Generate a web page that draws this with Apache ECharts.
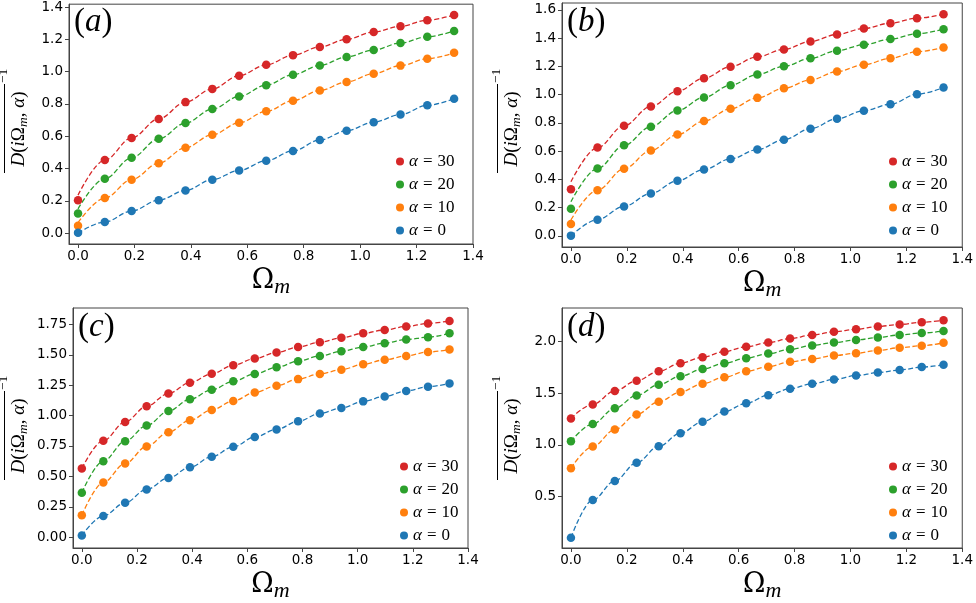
<!DOCTYPE html>
<html>
<head>
<meta charset="utf-8">
<script src="https://cdn.jsdelivr.net/npm/echarts@6/dist/echarts.min.js"></script>
<style>
  html, body { margin: 0; padding: 0; background: #fff; }
  #chart { width: 976px; height: 603px; }
</style>
</head>
<body>
<div id="chart"></div>
<script>
// x grid of the points
const xsAB = [0, 0.095, 0.190, 0.286, 0.381, 0.476, 0.571, 0.667, 0.762, 0.857, 0.952, 1.048, 1.143, 1.238, 1.333]
const xsCD = [0, 0.078, 0.157, 0.235, 0.314, 0.392, 0.471, 0.549, 0.627, 0.706, 0.784, 0.863, 0.941, 1.020, 1.098, 1.176, 1.255, 1.333]

const seriesNames = ['α = 30', 'α = 20', 'α = 10', 'α = 0']
const colors = ['#d62728', '#2ca02c', '#ff7f0e', '#1f77b4']

// panel (a)
const a30 = [0.204, 0.452, 0.589, 0.707, 0.811, 0.893, 0.975, 1.042, 1.102, 1.153, 1.200, 1.245, 1.281, 1.318, 1.351]
const a20 = [0.121, 0.337, 0.466, 0.584, 0.681, 0.768, 0.846, 0.916, 0.981, 1.038, 1.091, 1.134, 1.177, 1.216, 1.251]
const a10 = [0.045, 0.217, 0.331, 0.433, 0.529, 0.609, 0.683, 0.754, 0.820, 0.883, 0.936, 0.987, 1.037, 1.080, 1.116]
const a0 = [0.002, 0.069, 0.137, 0.204, 0.264, 0.331, 0.388, 0.448, 0.509, 0.576, 0.634, 0.687, 0.734, 0.791, 0.832]
const curveStartA = [0.235, 0.15, 0.065, 0.0]

// panel (b)
const b30 = [0.331, 0.625, 0.780, 0.916, 1.024, 1.116, 1.198, 1.268, 1.320, 1.376, 1.426, 1.468, 1.506, 1.541, 1.569]
const b20 = [0.193, 0.477, 0.641, 0.773, 0.888, 0.980, 1.067, 1.142, 1.200, 1.257, 1.311, 1.353, 1.393, 1.431, 1.463]
const b10 = [0.085, 0.324, 0.475, 0.604, 0.717, 0.813, 0.900, 0.977, 1.045, 1.104, 1.163, 1.212, 1.257, 1.304, 1.334]
const b0 = [0.002, 0.115, 0.209, 0.301, 0.390, 0.470, 0.545, 0.611, 0.681, 0.759, 0.829, 0.886, 0.932, 1.003, 1.050]
const curveStartB = [0.383, 0.242, 0.113, 0.0]

// panel (c)
const c30 = [0.565, 0.794, 0.948, 1.077, 1.182, 1.271, 1.344, 1.414, 1.469, 1.519, 1.564, 1.604, 1.640, 1.677, 1.704, 1.733, 1.758, 1.779]
const c20 = [0.366, 0.625, 0.789, 0.918, 1.037, 1.134, 1.212, 1.282, 1.343, 1.397, 1.448, 1.491, 1.529, 1.564, 1.596, 1.626, 1.645, 1.677]
const c10 = [0.180, 0.450, 0.606, 0.746, 0.864, 0.961, 1.047, 1.120, 1.190, 1.246, 1.300, 1.343, 1.378, 1.422, 1.459, 1.491, 1.523, 1.543]
const c0 = [0.013, 0.175, 0.283, 0.393, 0.487, 0.576, 0.662, 0.743, 0.824, 0.886, 0.953, 1.018, 1.063, 1.117, 1.158, 1.203, 1.238, 1.265]

// panel (d)
const d30 = [1.255, 1.390, 1.520, 1.618, 1.709, 1.788, 1.845, 1.899, 1.946, 1.987, 2.025, 2.060, 2.091, 2.114, 2.142, 2.161, 2.183, 2.202]
const d20 = [1.034, 1.201, 1.353, 1.476, 1.580, 1.662, 1.731, 1.788, 1.836, 1.880, 1.921, 1.959, 1.987, 2.012, 2.035, 2.060, 2.079, 2.098]
const d10 = [0.775, 0.983, 1.147, 1.293, 1.416, 1.510, 1.589, 1.653, 1.710, 1.754, 1.801, 1.829, 1.861, 1.883, 1.911, 1.937, 1.956, 1.984]
const d0 = [0.105, 0.468, 0.652, 0.828, 0.986, 1.113, 1.223, 1.321, 1.401, 1.479, 1.542, 1.589, 1.630, 1.668, 1.697, 1.722, 1.750, 1.773]

// tick labels
const xTicks = [0, 0.2, 0.4, 0.6, 0.8, 1.0, 1.2, 1.4]
const yTicksA = [0, 0.2, 0.4, 0.6, 0.8, 1.0, 1.2, 1.4]
const yTicksB = [0, 0.2, 0.4, 0.6, 0.8, 1.0, 1.2, 1.4, 1.6]
const yTicksC = [0, 0.25, 0.5, 0.75, 1.0, 1.25, 1.5, 1.75]
const yTicksD = [0.5, 1.0, 1.5, 2.0]

const panelLetters = ['a', 'b', 'c', 'd']

const panels = [
  { xs: xsAB, ys: [a30, a20, a10, a0], start: curveStartA, yTicks: yTicksA, digits: 1,
    grid: { left: 69, top: 3, width: 404, height: 241 }, yMin: -0.0675, yMax: 1.4175 },
  { xs: xsAB, ys: [b30, b20, b10, b0], start: curveStartB, yTicks: yTicksB, digits: 1,
    grid: { left: 562, top: 3, width: 404, height: 244 }, yMin: -0.0785, yMax: 1.6485 },
  { xs: xsCD, ys: [c30, c20, c10, c0], start: null, yTicks: yTicksC, digits: 2,
    grid: { left: 73, top: 308, width: 395, height: 245 }, yMin: -0.089, yMax: 1.885 },
  { xs: xsCD, ys: [d30, d20, d10, d0], start: null, yTicks: yTicksD, digits: 1,
    grid: { left: 562, top: 308, width: 404, height: 244 }, yMin: 0.005, yMax: 2.32 }
]

const axisColor = '#444'
const tickFont = { color: '#000', fontFamily: 'DejaVu Sans', fontSize: 13.5 }
const mathFont = 'Liberation Serif'

const chart = echarts.init(document.getElementById('chart'), null, { renderer: 'canvas' })

const grids = []
const xAxes = []
const yAxes = []
const series = []
const legends = []
const graphics = []

panels.forEach((p, i) => {
  grids.push(Object.assign({ show: true, borderColor: axisColor, borderWidth: 1, backgroundColor: 'transparent' }, p.grid))

  xAxes.push({
    type: 'value', gridIndex: i, min: -0.032, max: 1.4,
    axisLine: { show: true, onZero: false, lineStyle: { color: axisColor, width: 1 } },
    axisTick: { show: true, length: 4, customValues: xTicks, lineStyle: { color: axisColor } },
    axisLabel: Object.assign({ margin: 5, customValues: xTicks, formatter: v => v.toFixed(1) }, tickFont),
    splitLine: { show: false },
    name: '{o|Ω}{m|m}', nameLocation: 'middle', nameGap: 22,
    nameTextStyle: {
      rich: {
        o: { fontFamily: 'DejaVu Serif', fontSize: 27, color: '#000', lineHeight: 30 },
        m: { fontFamily: mathFont, fontStyle: 'italic', fontSize: 22, color: '#000', lineHeight: 30, padding: [12, 0, 0, 0] }
      }
    }
  })

  yAxes.push({
    type: 'value', gridIndex: i, min: p.yMin, max: p.yMax,
    axisLine: { show: true, onZero: false, lineStyle: { color: axisColor, width: 1 } },
    axisTick: { show: true, length: 4, customValues: p.yTicks, lineStyle: { color: axisColor } },
    axisLabel: Object.assign({ margin: 6, customValues: p.yTicks, formatter: v => v.toFixed(p.digits) }, tickFont),
    splitLine: { show: false }
  })

  p.ys.forEach((ys, j) => {
    // dashed guide curve
    series.push({
      type: 'line', name: 'fit' + i + j, xAxisIndex: i, yAxisIndex: i,
      data: p.xs.map((x, k) => [x, (k === 0 && p.start) ? p.start[j] : ys[k]]),
      symbol: 'none', smooth: 0.35, smoothMonotone: 'x', silent: true, z: 2,
      lineStyle: { color: colors[j], width: 1.3, type: [5, 2.5] }
    })
    series.push({
      type: 'scatter', name: seriesNames[j], xAxisIndex: i, yAxisIndex: i,
      data: p.xs.map((x, k) => [x, ys[k]]),
      symbol: 'circle', symbolSize: 8.5, z: 3,
      itemStyle: { color: colors[j], opacity: 1 }
    })
  })

  const gx = p.grid.left, gy = p.grid.top

  legends.push({
    data: seriesNames, orient: 'vertical', icon: 'circle', padding: 0,
    left: gx + 327, top: gy + 150, itemWidth: 8, itemHeight: 8, itemGap: 6,
    selectedMode: false,
    formatter: name => '{i|α}{e|=}{t|' + name.split('= ')[1] + '}',
    textStyle: {
      lineHeight: 16,
      rich: {
        i: { fontFamily: mathFont, fontStyle: 'italic', fontSize: 17, color: '#000', lineHeight: 16 },
        e: { fontFamily: mathFont, fontSize: 17, color: '#000', lineHeight: 16, padding: [0, 5, 0, 5] },
        t: { fontFamily: mathFont, fontSize: 17, color: '#000', lineHeight: 16 }
      }
    }
  })

  // panel letter
  graphics.push({
    type: 'text', left: gx + 5, top: gy + 3, z: 10,
    style: {
      text: '{p|(}{i|' + panelLetters[i] + '}{p|)}',
      rich: {
        p: { fontFamily: mathFont, fontSize: 33, fill: '#000' },
        i: { fontFamily: mathFont, fontStyle: 'italic', fontSize: 33, fill: '#000' }
      }
    }
  })

  // rotated y label with overline and exponent
  const cx = i % 2 === 0 ? 19 : 512
  const cy = i < 2 ? 129 : 436
  graphics.push({
    type: 'group', x: cx, y: cy, rotation: Math.PI / 2, z: 10,
    children: [
      {
        type: 'text', x: 0, y: 0,
        style: {
          text: '{i|D}{u|(}{i|i}{u|Ω}{s|m}{u|, }{i|α}{u|)}',
          align: 'center', verticalAlign: 'middle',
          rich: {
            i: { fontFamily: mathFont, fontStyle: 'italic', fontSize: 19, fill: '#000' },
            u: { fontFamily: mathFont, fontSize: 19, fill: '#000' },
            s: { fontFamily: mathFont, fontStyle: 'italic', fontSize: 13.5, fill: '#000', padding: [8, 0, 0, 0] }
          }
        }
      },
      {
        type: 'line', shape: { x1: -44, y1: -14.5, x2: 45, y2: -14.5 },
        style: { stroke: '#000', lineWidth: 1 }
      },
      {
        type: 'text', x: 46, y: -16,
        style: { text: '−1', fontFamily: mathFont, fontSize: 13.5, fill: '#000', align: 'left', verticalAlign: 'middle' }
      }
    ]
  })
})

chart.setOption({
  animation: false,
  backgroundColor: '#fff',
  grid: grids,
  xAxis: xAxes,
  yAxis: yAxes,
  legend: legends,
  series: series,
  graphic: graphics
})

window.addEventListener('resize', () => chart.resize())
</script>
</body>
</html>
